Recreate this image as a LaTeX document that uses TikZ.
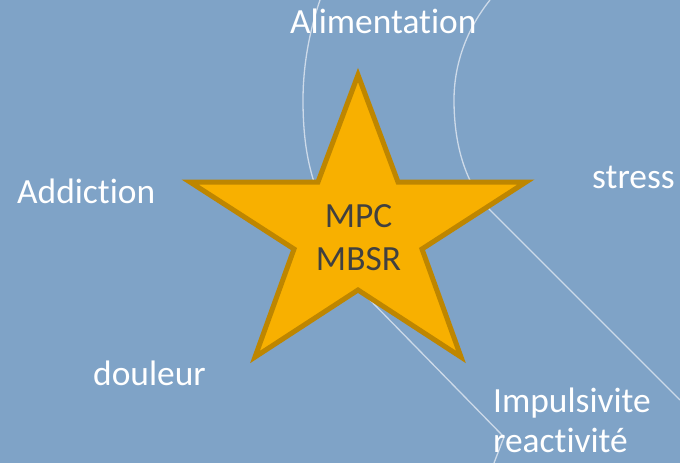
\documentclass[tikz,border=0pt]{standalone}
\usepackage{fontspec}
\setmainfont[Ligatures=NoCommon]{Carlito}
\definecolor{bgblue}{RGB}{127,163,199}
\definecolor{arcline}{RGB}{205,218,233}
\definecolor{starfill}{RGB}{248,176,0}
\definecolor{starline}{RGB}{190,134,0}
\definecolor{coretext}{RGB}{64,64,64}
\begin{document}
\begin{tikzpicture}[x=1pt, y=-1pt,
    topic/.style={text=white, inner sep=0pt, anchor=base west, align=left,
      font=\fontsize{35.4}{40}\selectfont},
    core/.style={text=coretext, inner sep=0pt, anchor=base, align=center,
      font=\fontsize{35.4}{43}\selectfont}]
  % Draw the background
  \useasboundingbox (0, 0) rectangle (680, 463);
  \fill[bgblue] (0, 0) rectangle (680, 463);

  % Draw the thin lines behind
  \draw[arcline, line width=1.3pt] (320, 0) .. controls (308, 35) and (303, 70) .. (303, 100)
    .. controls (303, 135) and (307, 160) .. (314, 182)
    .. controls (325, 230) and (345, 275) .. (370, 300) -- (504, 437) -- (494, 463);
  \draw[arcline, line width=1.3pt] (490, 0) .. controls (466, 30) and (454, 65) .. (454, 100)
    .. controls (454, 150) and (468, 188) .. (492, 212) -- (680, 400);

  % Draw the star
  \draw[starline, fill=starfill, line width=5pt] (358, 75) -- (398, 182) -- (526, 182)
    -- (422, 249) -- (461, 357) -- (358, 290) -- (255, 357) -- (294, 249)
    -- (190, 182) -- (318, 182) -- cycle;
  \node[core] (mpc) at (358.5, 270) {MPC\\MBSR};

  % Draw the words round it
  \node[topic] (alim) at (290, 34) {Alimentation};
  \node[topic] (addict) at (17, 203) {Addiction};
  \node[topic] (stress) at (592, 188) {stress};
  \node[topic] (douleur) at (93, 385) {douleur};
  \node[topic] (impuls) at (493, 452) {Impulsivite\\reactivité};
\end{tikzpicture}
\end{document}
